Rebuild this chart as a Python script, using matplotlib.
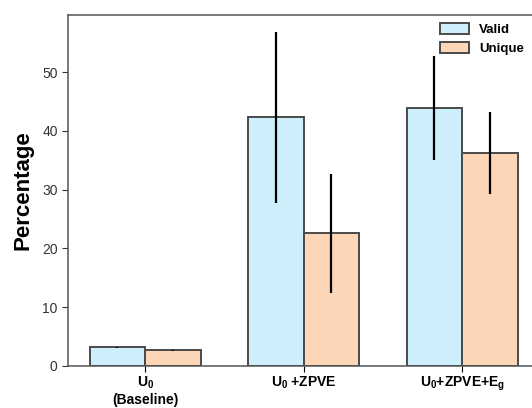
import matplotlib
matplotlib.use("Agg")
import matplotlib.pyplot as plt
import numpy as np

plt.rcParams['font.family'] = ['Liberation Sans', 'DejaVu Sans']
plt.rcParams['mathtext.fontset'] = 'custom'
plt.rcParams['mathtext.rm'] = 'Liberation Sans:bold'
plt.rcParams['mathtext.bf'] = 'Liberation Sans:bold'
plt.rcParams['mathtext.it'] = 'Liberation Sans:bold'

categories = ["U$_0$\n(Baseline)", "U$_0$ +ZPVE", "U$_0$+ZPVE+E$_g$"]
valid = [3.2, 42.3, 43.9]
valid_err = [0.1, 14.5, 8.8]
unique = [2.7, 22.6, 36.2]
unique_err = [0.1, 10.1, 7.0]

x = np.arange(len(categories))
w = 0.35

fig = plt.figure(figsize=(5.32, 4.08), dpi=100)
ax = fig.add_axes([0.128, 0.103, 0.872, 0.86])

edge = '#4a4a4a'
ax.bar(x - w / 2, valid, w, color='#cdeefb', edgecolor=edge, linewidth=1.4, label='Valid')
ax.bar(x + w / 2, unique, w, color='#fdd6b8', edgecolor=edge, linewidth=1.4, label='Unique')
ax.errorbar(x - w / 2, valid, yerr=valid_err, fmt='none', ecolor='black', elinewidth=1.6, capsize=0)
ax.errorbar(x + w / 2, unique, yerr=unique_err, fmt='none', ecolor='black', elinewidth=1.6, capsize=0)

ax.set_xlim(-0.486, 2.44)
ax.set_ylim(0, 59.7)
ax.set_yticks([0, 10, 20, 30, 40, 50])
ax.set_xticks(x)
ax.set_xticklabels(categories, fontweight='bold', fontsize=10)
ax.tick_params(axis='y', labelsize=10, colors='#333333', length=4)
ax.tick_params(axis='x', length=4, pad=2)
ax.set_ylabel('Percentage', fontsize=16, fontweight='bold', labelpad=6)

for s in ['left', 'bottom', 'top']:
    ax.spines[s].set_color('#555555')
    ax.spines[s].set_linewidth(1.1)
ax.spines['right'].set_visible(False)

leg = ax.legend(loc='upper right', frameon=False, fontsize=9.5, handlelength=2.2,
                handleheight=0.9, borderaxespad=0.2, labelspacing=0.45)
for t in leg.get_texts():
    t.set_fontweight('bold')

fig.savefig('out.png', dpi=100)
